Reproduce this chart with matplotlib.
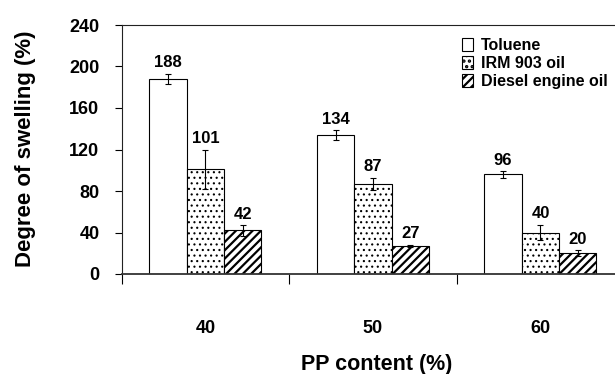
import matplotlib
matplotlib.use("Agg")
import matplotlib.pyplot as plt
import matplotlib.patches as mpatches
import numpy as np

plt.rcParams["font.family"] = ["Liberation Sans", "DejaVu Sans"]
plt.rcParams["font.weight"] = "bold"

# Swelling data per PP content
pp_content = ["40", "50", "60"]
series_names = ["Toluene", "IRM 903 oil", "Diesel engine oil"]
toluene = [188, 134, 96]
irm903 = [101, 87, 40]
diesel = [42, 27, 20]
toluene_err = [5, 4.5, 3]
irm903_err = [19, 6, 7.5]
diesel_err = [5, 1, 3]
y_ticks = [0, 40, 80, 120, 160, 200, 240]

values = [toluene, irm903, diesel]
errors = [toluene_err, irm903_err, diesel_err]
hatches = ["", "...", "////"]
hatch_lw = [1.0, 0.8, 1.6]

W, H = 615, 374
fig = plt.figure(figsize=(W / 100, H / 100), dpi=100)
ax = fig.add_axes([121.7 / W, 1 - 274 / H, 502.5 / W, 249 / H])

x = np.arange(len(pp_content))
width = 0.223
offsets = [-width, 0, width]

handles = []
for vals, errs, hatch, hlw, off, name in zip(values, errors, hatches, hatch_lw, offsets, series_names):
    plt.rcParams["hatch.linewidth"] = hlw
    ax.bar(x + off, vals, width, color="white", edgecolor="black",
           linewidth=0.8, hatch=hatch, zorder=2)
    ax.errorbar(x + off, vals, yerr=errs, fmt="none", ecolor="black",
                elinewidth=0.8, capsize=2.5, capthick=0.8, zorder=3)
    for xi, v, e in zip(x + off, vals, errs):
        ax.annotate(str(v), xy=(xi, v + e), xytext=(0, 2.5),
                    textcoords="offset points", ha="center", va="bottom",
                    fontsize=12, fontweight="bold")
    handles.append(mpatches.Patch(facecolor="white", edgecolor="black",
                                  linewidth=0.8, hatch=hatch, label=name))

ax.set_xlim(-0.5, len(pp_content) - 0.5)
ax.set_ylim(0, 240)
ax.set_yticks(y_ticks)
ax.tick_params(axis="y", direction="out", length=5, width=0.8,
               labelsize=13, pad=11, colors="black")

# Group boundaries as major ticks, group labels as minor ticks
ax.set_xticks(np.arange(len(pp_content) + 1) - 0.5)
ax.set_xticklabels([])
ax.set_xticks(x, minor=True)
ax.set_xticklabels(pp_content, minor=True)
ax.tick_params(axis="x", which="major", direction="out", length=7, width=0.8)
ax.tick_params(axis="x", which="minor", length=0, labelsize=13, pad=33)

for s in ["left", "top"]:
    ax.spines[s].set_linewidth(0.8)
    ax.spines[s].set_color("#222222")
ax.spines["bottom"].set_linewidth(1.3)
ax.spines["bottom"].set_color("#333333")
ax.spines["right"].set_visible(False)

fig.text(26 / W, 1 - 149 / H, "Degree of swelling (%)", rotation=90,
         ha="center", va="center", fontsize=16, fontweight="bold")
fig.text(377 / W, 1 - 370 / H, "PP content (%)", ha="center", va="baseline",
         fontsize=15.5, fontweight="bold")

fig.legend(handles=handles, loc="upper left",
           bbox_to_anchor=(461.5 / W, 1 - 38 / H), bbox_transform=fig.transFigure,
           frameon=False, handlelength=0.75, handleheight=0.85,
           handletextpad=0.45, labelspacing=0.2, borderpad=0, borderaxespad=0,
           prop={"weight": "bold", "size": 11.5})

fig.savefig("out.png", dpi=100)
